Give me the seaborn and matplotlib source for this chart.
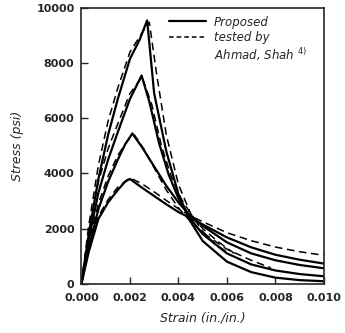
import numpy as np
import pandas as pd
import seaborn as sns
import matplotlib.pyplot as plt
from matplotlib.lines import Line2D

# strain (in./in.) and stress (psi)
p1_strain = [0, 0.0003, 0.0007, 0.0011, 0.0015, 0.0018, 0.0020, 0.0025, 0.0030, 0.0035, 0.0040, 0.0045, 0.0050, 0.0060, 0.0070, 0.0080, 0.0090, 0.0100]
p1_stress = [0, 1150, 2350, 2950, 3400, 3700, 3800, 3480, 3180, 2880, 2600, 2380, 2150, 1680, 1320, 1050, 870, 730]

p2_strain = [0, 0.0003, 0.0007, 0.0011, 0.0015, 0.0018, 0.0021, 0.0025, 0.0030, 0.0035, 0.0040, 0.0045, 0.0050, 0.0060, 0.0070, 0.0080, 0.0090, 0.0100]
p2_stress = [0, 1300, 2700, 3700, 4500, 5050, 5450, 4950, 4250, 3550, 2950, 2450, 2100, 1500, 1100, 850, 680, 560]

p3_strain = [0, 0.0003, 0.0007, 0.0011, 0.0015, 0.0020, 0.00248, 0.0028, 0.0032, 0.0036, 0.0040, 0.0045, 0.0050, 0.0060, 0.0070, 0.0080, 0.0090, 0.0100]
p3_stress = [0, 1600, 3300, 4500, 5500, 6700, 7550, 6600, 5100, 3950, 3100, 2350, 1800, 1100, 700, 480, 350, 270]

p4_strain = [0, 0.0003, 0.0007, 0.0011, 0.0015, 0.0020, 0.0024, 0.00271, 0.0030, 0.0035, 0.0040, 0.0045, 0.0050, 0.0060, 0.0070, 0.0080, 0.0090, 0.0100]
p4_stress = [0, 1800, 3800, 5400, 6700, 8150, 8850, 9550, 6900, 4800, 3250, 2250, 1550, 800, 420, 220, 130, 90]

d1_strain = [0, 0.0003, 0.0007, 0.0011, 0.0015, 0.0019, 0.0021, 0.0025, 0.0030, 0.0035, 0.0040, 0.0045, 0.0050, 0.0055, 0.0060, 0.0070, 0.0080, 0.0090, 0.0100]
d1_stress = [0, 1300, 2450, 3050, 3500, 3780, 3800, 3620, 3330, 3020, 2720, 2460, 2250, 2050, 1850, 1560, 1330, 1160, 1030]

d2_strain = [0, 0.0003, 0.0007, 0.0011, 0.0015, 0.0019, 0.0022, 0.0026, 0.0030, 0.0035, 0.0040, 0.0045, 0.0050, 0.0060, 0.0070, 0.0078]
d2_stress = [0, 1500, 2900, 3900, 4650, 5200, 5380, 4850, 4200, 3400, 2750, 2250, 1850, 1250, 850, 580]

d3_strain = [0, 0.0003, 0.0007, 0.0011, 0.0015, 0.0020, 0.0025, 0.0029, 0.0033, 0.0037, 0.0041, 0.0045, 0.0050, 0.0056, 0.0063]
d3_stress = [0, 1900, 3700, 4900, 5800, 6900, 7500, 6500, 5000, 3900, 3100, 2550, 2000, 1550, 1100]

d4_strain = [0, 0.0003, 0.0007, 0.0011, 0.0015, 0.0020, 0.0025, 0.0028, 0.0031, 0.0035, 0.0040, 0.0045, 0.0050, 0.0055, 0.0060]
d4_stress = [0, 2100, 4300, 5900, 7100, 8400, 9100, 9480, 7600, 5400, 3600, 2550, 1900, 1450, 1150]

proposed = [(p1_strain, p1_stress), (p2_strain, p2_stress), (p3_strain, p3_stress), (p4_strain, p4_stress)]
tested = [(d1_strain, d1_stress), (d2_strain, d2_stress), (d3_strain, d3_stress), (d4_strain, d4_stress)]

sns.set_style("ticks")
plt.rcParams['font.family'] = ['DejaVu Sans']

fig = plt.figure(figsize=(3.45, 3.33), dpi=100)
ax = fig.add_axes([0.236, 0.148, 0.703, 0.828])

for xs, ys in proposed:
    sns.lineplot(x=xs, y=ys, ax=ax, color="black", lw=1.6, sort=False, estimator=None)
for xs, ys in tested:
    sns.lineplot(x=xs, y=ys, ax=ax, color="black", lw=1.1, linestyle=(0, (5, 3)),
                 sort=False, estimator=None)

ax.set_xlim(0, 0.010)
ax.set_ylim(0, 10000)
ax.set_xticks(np.arange(0, 0.0101, 0.002))
ax.set_yticks(np.arange(0, 10001, 2000))
ax.set_xticklabels(["0.000", "0.002", "0.004", "0.006", "0.008", "0.010"], fontsize=8, fontweight="bold")
ax.set_yticklabels(["0", "2000", "4000", "6000", "8000", "10000"], fontsize=8, fontweight="bold")
ax.tick_params(direction="in", length=5, width=1)
ax.tick_params(axis="x", pad=7)
ax.tick_params(axis="y", pad=5)
for s in ax.spines.values():
    s.set_linewidth(1.2)

ax.set_xlabel("Strain (in./in.)", fontsize=9, style="italic", labelpad=6)
ax.set_ylabel("Stress (psi)", fontsize=9, style="italic", labelpad=9)

handles = [Line2D([], [], color="black", lw=1.6),
           Line2D([], [], color="black", lw=1.1, linestyle=(0, (3, 2))),
           Line2D([], [], linestyle="none")]
labels = ["Proposed", "tested by", r"Ahmad, Shah $^{4)}$"]
leg = ax.legend(handles, labels, loc="upper left", bbox_to_anchor=(0.34, 0.99), frameon=False,
                handlelength=2.6, handletextpad=0.6, labelspacing=0.15, borderaxespad=0)
for t in leg.get_texts():
    t.set_fontsize(8.5)
    t.set_style("italic")

fig.savefig("out.png", dpi=100)
